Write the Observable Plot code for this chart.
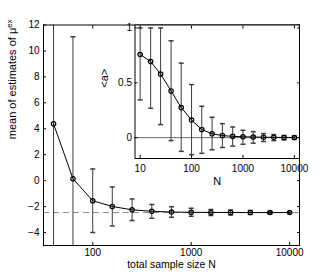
<!DOCTYPE html>
<html><head><meta charset="utf-8">
<script src="https://cdn.jsdelivr.net/npm/d3@7"></script>
<script src="https://cdn.jsdelivr.net/npm/@observablehq/plot@0.6"></script>
<style>
html,body{margin:0;padding:0;background:#fff;}
#wrap{position:relative;width:331px;height:277px;}
#wrap svg{position:absolute;left:0;top:0;}
</style></head><body><div id="wrap"></div>
<script>
// Main plot data
const mainN = [40, 63, 100, 158, 251, 398, 631, 1000, 1585, 2512, 3981, 6310, 10000];
const mainMean = [4.38, 0.15, -1.55, -1.99, -2.25, -2.36, -2.42, -2.44, -2.45, -2.45, -2.46, -2.46, -2.46];
const mainErr = [20, 10.95, 2.45, 1.5, 0.83, 0.53, 0.41, 0.31, 0.23, 0.19, 0.15, 0.1, 0.05];
const refLevel = [-2.46];
const mainXTicks = [100, 1000, 10000];
const mainYTicks = [-4, -2, 0, 2, 4, 6, 8, 10, 12];
const mainXLabel = "total sample size N";
const mainYLabel = "mean of estimates of μ";
const mainYLabelSup = "ex";

// Inset data
const insetN = [10, 16, 25, 40, 63, 100, 158, 251, 398, 631, 1000, 1585, 2512, 3981, 6310, 10000];
const insetMean = [0.758, 0.694, 0.58, 0.426, 0.274, 0.161, 0.074, 0.035, 0.019, 0.012, 0.008, 0.006, 0.004, 0.003, 0.002, 0.002];
const insetLow = [0.344, 0.268, 0.119, -0.027, -0.125, -0.155, -0.143, -0.11, -0.09, -0.077, -0.06, -0.05, -0.035, -0.027, -0.02, -0.015];
const insetHigh = [1.0, 1.0, 1.0, 0.883, 0.679, 0.484, 0.286, 0.185, 0.128, 0.097, 0.067, 0.055, 0.037, 0.028, 0.02, 0.015];
const insetXTicks = [10, 100, 1000, 10000];
const insetYTicks = [0, 0.5, 1];
const insetXLabel = "N";
const insetYLabel = "<a>";

const font = "'Liberation Sans', Arial, Helvetica, sans-serif";
const barColor = "#3c3c3c";
const capSymbol = {draw(ctx, size) { const r = Math.sqrt(size / Math.PI); ctx.moveTo(-r, 0); ctx.lineTo(r, 0); }};

const mainRows = mainN.map((n, i) => ({N: n, mean: mainMean[i], lo: mainMean[i] - mainErr[i], hi: mainMean[i] + mainErr[i]}));
const insetRows = insetN.map((n, i) => ({N: n, mean: insetMean[i], lo: insetLow[i], hi: insetHigh[i]}));

const baseStyle = {fontFamily: font, fontSize: "10px", color: "#000", background: "transparent", overflow: "visible"};

const main = Plot.plot({
  width: 331, height: 277,
  marginLeft: 43, marginRight: 32, marginTop: 24.5, marginBottom: 32,
  style: baseStyle,
  x: {type: "log", domain: [10 ** 1.5, 10 ** 4.1]},
  y: {domain: [-5, 12]},
  marks: [
    Plot.ruleY(refLevel, {stroke: "#8a8a8a", strokeDasharray: "6,4"}),
    Plot.ruleX(mainRows, {x: "N", y1: "lo", y2: "hi", stroke: barColor, clip: true}),
    Plot.dot(mainRows, {x: "N", y: "lo", symbol: capSymbol, r: 2.5, stroke: barColor, fill: "none", clip: true}),
    Plot.dot(mainRows, {x: "N", y: "hi", symbol: capSymbol, r: 2.5, stroke: barColor, fill: "none", clip: true}),
    Plot.line(mainRows, {x: "N", y: "mean", stroke: "#000", strokeWidth: 1}),
    Plot.dot(mainRows, {x: "N", y: "mean", r: 2.2, stroke: "#000", fill: "none", strokeWidth: 1.2}),
    Plot.frame({stroke: "#000"}),
    Plot.axisY(mainYTicks, {anchor: "left", tickSize: -3, tickPadding: 7, label: null}),
    Plot.axisY(mainYTicks, {anchor: "right", tickSize: -3, tickFormat: () => "", label: null}),
    Plot.axisX(mainXTicks, {anchor: "bottom", tickSize: -3, tickPadding: 6, tickFormat: d => String(d), label: null}),
    Plot.axisX(mainXTicks, {anchor: "top", tickSize: -3, tickFormat: () => "", label: null}),
    Plot.text([mainXLabel], {frameAnchor: "bottom", dy: 22.5, text: d => d, fontSize: 10.5}),
    Plot.text([mainYLabel], {frameAnchor: "left", dx: -31, dy: 4, rotate: -90, text: d => d, fontSize: 11})
  ]
});

const inset = Plot.plot({
  width: 331, height: 277,
  marginLeft: 134.5, marginRight: 32, marginTop: 24.5, marginBottom: 119,
  style: baseStyle,
  x: {type: "log", domain: [10 ** 0.9, 10 ** 4.1]},
  y: {domain: [-0.19, 1.027]},
  marks: [
    Plot.frame({fill: "white"}),
    Plot.ruleY([0], {stroke: "#5f6f66"}),
    Plot.ruleX(insetRows, {x: "N", y1: "lo", y2: "hi", stroke: barColor}),
    Plot.dot(insetRows, {x: "N", y: "lo", symbol: capSymbol, r: 2.5, stroke: barColor, fill: "none"}),
    Plot.dot(insetRows, {x: "N", y: "hi", symbol: capSymbol, r: 2.5, stroke: barColor, fill: "none"}),
    Plot.line(insetRows, {x: "N", y: "mean", stroke: "#000", strokeWidth: 1}),
    Plot.dot(insetRows, {x: "N", y: "mean", r: 2.2, stroke: "#000", fill: "none", strokeWidth: 1.2}),
    Plot.frame({stroke: "#000"}),
    Plot.axisY(insetYTicks, {anchor: "left", tickSize: -3, tickPadding: 6, tickFormat: d => String(d), label: null}),
    Plot.axisY(insetYTicks, {anchor: "right", tickSize: -3, tickFormat: () => "", label: null}),
    Plot.axisX(insetXTicks, {anchor: "bottom", tickSize: -3, tickPadding: 9, tickFormat: d => String(d), label: null}),
    Plot.axisX(insetXTicks, {anchor: "top", tickSize: -3, tickFormat: () => "", label: null}),
    Plot.text([insetXLabel], {frameAnchor: "bottom", dy: 26.5, text: d => d, fontSize: 11}),
    Plot.text([insetYLabel], {frameAnchor: "left", dx: -31, dy: -4, rotate: -90, text: d => d, fontSize: 11})
  ]
});

// superscript on the main y label
d3.select(main).selectAll("text").filter(function() { return this.textContent === mainYLabel; })
  .append("tspan").attr("dy", "-0.45em").attr("font-size", "0.72em").text(mainYLabelSup);

const wrap = document.getElementById("wrap");
wrap.appendChild(main);
wrap.appendChild(inset);
</script></body></html>
